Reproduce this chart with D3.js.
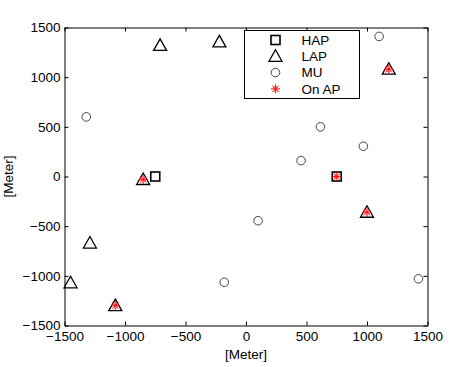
<!DOCTYPE html>
<html>
<head>
<meta charset="utf-8">
<script src="https://cdn.jsdelivr.net/npm/d3@7"></script>
<style>
  body { margin: 0; background: #fff; }
  text { font-family: "Liberation Sans", Arial, sans-serif; }
</style>
</head>
<body>
<svg id="chart" width="472" height="367"></svg>
<script>
// point data (meters)
var hapX = [-750, 750];
var hapY = [0, 0];
var lapX = [-710, -220, 1180, -850, -1290, -1450, -1080, 1000];
var lapY = [1320, 1355, 1080, -30, -670, -1070, -1300, -360];
var muX = [-1320, 1100, 615, 970, 455, -180, 100, 1425];
var muY = [600, 1410, 500, 305, 160, -1065, -445, -1030];
var onX = [750, 1180, -850, -1080, 1000];
var onY = [0, 1080, -30, -1300, -360];
var ticks = [-1500, -1000, -500, 0, 500, 1000, 1500];
var legendNames = ["HAP", "LAP", "MU", "On AP"];

var svg = d3.select("#chart");
var pLeft = 64.5, pRight = 427.5, pTop = 27.5, pBottom = 325.5;

var x = d3.scaleLinear().domain([-1500, 1500]).range([pLeft, pRight]);
var y = d3.scaleLinear().domain([-1500, 1500]).range([pBottom, pTop]);

var fmt = function(d){ return d < 0 ? "\u2212" + Math.abs(d) : "" + d; };

// axes: ticks inward on all four sides
svg.append("g").attr("transform", "translate(0," + pBottom + ")")
  .call(d3.axisBottom(x).tickValues(ticks).tickSizeInner(-4).tickSizeOuter(0).tickPadding(6).tickFormat(fmt));
svg.append("g").attr("transform", "translate(0," + pTop + ")")
  .call(d3.axisTop(x).tickValues(ticks).tickSizeInner(-4).tickSizeOuter(0).tickFormat(""));
svg.append("g").attr("transform", "translate(" + pLeft + ",0)")
  .call(d3.axisLeft(y).tickValues(ticks).tickSizeInner(-4).tickSizeOuter(0).tickPadding(4).tickFormat(fmt));
svg.append("g").attr("transform", "translate(" + pRight + ",0)")
  .call(d3.axisRight(y).tickValues(ticks).tickSizeInner(-4).tickSizeOuter(0).tickFormat(""));

svg.selectAll(".domain").attr("stroke", "#000").attr("stroke-width", 1);
svg.selectAll(".tick line").attr("stroke", "#000");
svg.selectAll(".tick text").attr("font-size", 13.5).attr("fill", "#000")
  .style("font-family", "'Liberation Sans', Arial, sans-serif");

svg.append("text").attr("x", (pLeft + pRight) / 2).attr("y", 359)
  .attr("text-anchor", "middle").attr("font-size", 13.5).text("[Meter]");
svg.append("text").attr("transform", "translate(13," + y(0) + ") rotate(-90)")
  .attr("text-anchor", "middle").attr("font-size", 13.5).text("[Meter]");

// marker shapes
function square(g) {
  g.append("rect").attr("x", -4.5).attr("y", -4.5).attr("width", 9).attr("height", 9)
    .attr("fill", "none").attr("stroke", "#000").attr("stroke-width", 1.6);
}
function triangle(g) {
  g.append("path").attr("d", "M0,-6.5L6.5,5L-6.5,5Z")
    .attr("fill", "none").attr("stroke", "#000").attr("stroke-width", 1.3);
}
function circle(g) {
  g.append("circle").attr("r", 4.3).attr("fill", "none").attr("stroke", "#444").attr("stroke-width", 1);
}
function star(g) {
  var p = "";
  for (var i = 0; i < 4; i++) {
    var a = i * Math.PI / 4, c = Math.cos(a) * 4.5, s = Math.sin(a) * 4.5;
    p += "M" + (-c) + "," + (-s) + "L" + c + "," + s;
  }
  g.append("path").attr("d", p).attr("stroke", "#f00").attr("stroke-width", 1).attr("fill", "none");
  g.append("circle").attr("r", 2.5).attr("fill", "none").attr("stroke", "#f66").attr("stroke-width", 1);
}

function plot(xs, ys, draw) {
  xs.forEach(function(v, i) {
    var g = svg.append("g").attr("transform", "translate(" + x(v) + "," + y(ys[i]) + ")");
    draw(g);
  });
}
plot(muX, muY, circle);
plot(hapX, hapY, square);
plot(lapX, lapY, triangle);
plot(onX, onY, star);

// legend
var lg = svg.append("g");
lg.append("rect").attr("x", 244.5).attr("y", 30.5).attr("width", 115).attr("height", 68)
  .attr("fill", "#fff").attr("stroke", "#000").attr("stroke-width", 1);
var drawers = [square, triangle, circle, star];
legendNames.forEach(function(n, i) {
  var ry = 40 + i * 16.3;
  var g = lg.append("g").attr("transform", "translate(275.5," + ry + ")");
  drawers[i](g);
  lg.append("text").attr("x", 301.5).attr("y", ry).attr("dy", "0.35em")
    .attr("font-size", 13.5).text(n);
});
</script>
</body>
</html>
